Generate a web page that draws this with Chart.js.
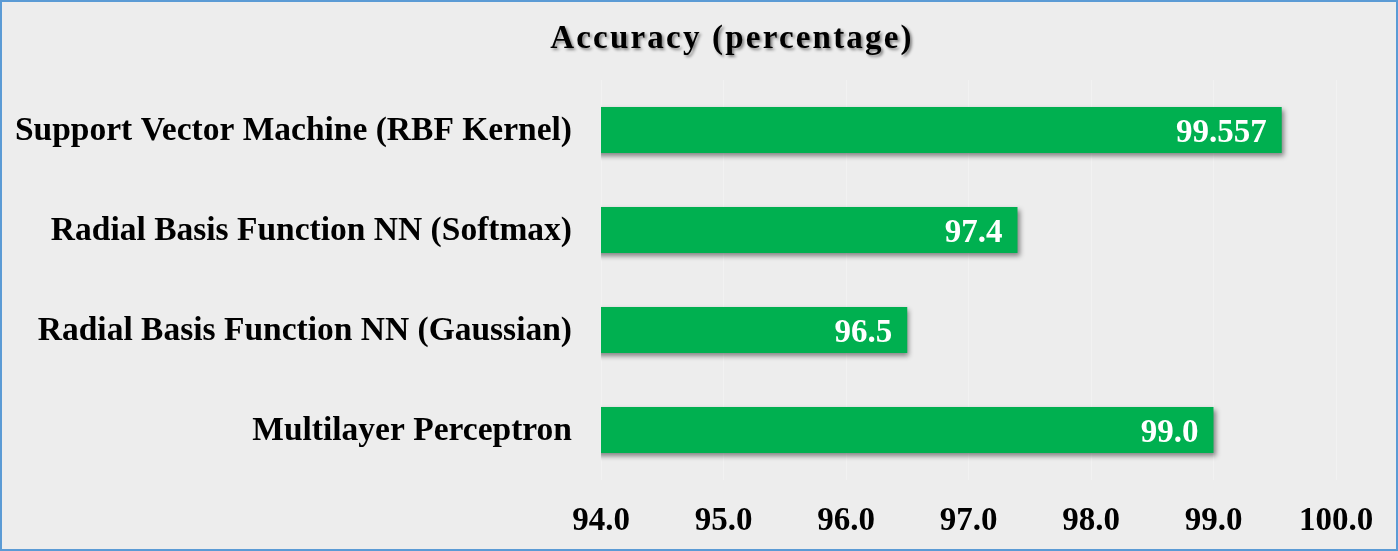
<!DOCTYPE html>
<html>
<head>
<meta charset="utf-8">
<script src="https://cdn.jsdelivr.net/npm/chart.js@4/dist/chart.umd.min.js"></script>
<style>
  html, body { margin: 0; padding: 0; background: #EDEDED; }
  #frame { width: 1398px; height: 551px; box-sizing: border-box; border: 2px solid #5B9BD5; background: #EDEDED; position: relative; }
  #wrap { position: absolute; left: 0; top: 0; width: 1394px; height: 547px; }
</style>
</head>
<body>
<div id="frame"><div id="wrap"><canvas id="c"></canvas></div></div>
<script>
const chartTitle = 'Accuracy (percentage)';
const models = [
  'Support Vector Machine (RBF Kernel)',
  'Radial Basis Function NN (Softmax)',
  'Radial Basis Function NN (Gaussian)',
  'Multilayer Perceptron'
];
const accuracy = [99.557, 97.4, 96.5, 99.0];
const axisMin = 94;
const axisMax = 100;
const axisStep = 1;

const valueText = accuracy.map(v => Number.isInteger(v) ? v.toFixed(1) : String(v));
const FONT = '"Liberation Serif", "Times New Roman", serif';

const titlePlugin = {
  id: 'customTitle',
  afterDraw(chart) {
    const ctx = chart.ctx;
    ctx.save();
    ctx.font = 'bold 33px ' + FONT;
    ctx.letterSpacing = '2.2px';
    ctx.fillStyle = '#000000';
    ctx.textAlign = 'center';
    ctx.textBaseline = 'alphabetic';
    ctx.shadowColor = 'rgba(0,0,0,0.45)';
    ctx.shadowBlur = 3;
    ctx.shadowOffsetX = 2;
    ctx.shadowOffsetY = 2;
    ctx.fillText(chartTitle, 730, 46);
    ctx.restore();
  }
};

const shadowPlugin = {
  id: 'barShadow',
  beforeDatasetsDraw(chart) {
    const ctx = chart.ctx;
    ctx.save();
    ctx.shadowColor = 'rgba(0,0,0,0.45)';
    ctx.shadowBlur = 5;
    ctx.shadowOffsetX = 2;
    ctx.shadowOffsetY = 3;
  },
  afterDatasetsDraw(chart) {
    const ctx = chart.ctx;
    ctx.restore();
    ctx.save();
    ctx.font = 'bold 33px ' + FONT;
    ctx.fillStyle = '#FFFFFF';
    ctx.textAlign = 'right';
    ctx.textBaseline = 'alphabetic';
    const meta = chart.getDatasetMeta(0);
    meta.data.forEach((bar, i) => {
      ctx.fillText(valueText[i], bar.x - 15, bar.y + 12);
    });
    ctx.restore();
  }
};

new Chart(document.getElementById('c'), {
  type: 'bar',
  data: {
    labels: models,
    datasets: [{
      data: accuracy,
      backgroundColor: '#00B050',
      borderWidth: 0,
      barPercentage: 0.46,
      categoryPercentage: 1.0
    }]
  },
  options: {
    indexAxis: 'y',
    responsive: true,
    maintainAspectRatio: false,
    animation: false,
    layout: { padding: { top: 78, right: 60, bottom: 0, left: 0 } },
    plugins: {
      legend: { display: false },
      title: { display: false },
      tooltip: { enabled: false }
    },
    scales: {
      x: {
        min: axisMin,
        max: axisMax,
        border: { display: false },
        grid: { color: '#F2F2F2', lineWidth: 1, drawTicks: false },
        afterFit(scale) { scale.height = 69; },
        ticks: {
          stepSize: axisStep,
          padding: 22,
          color: '#000000',
          font: { family: FONT, size: 33, weight: 'bold' },
          callback: v => Number(v).toFixed(1)
        }
      },
      y: {
        border: { display: false },
        grid: { display: false, drawTicks: false },
        afterFit(scale) { scale.width = 599; },
        ticks: {
          padding: 29,
          labelOffset: 1,
          color: '#000000',
          font: { family: FONT, size: 33.5, weight: 'bold' }
        }
      }
    }
  },
  plugins: [shadowPlugin, titlePlugin]
});
</script>
</body>
</html>
